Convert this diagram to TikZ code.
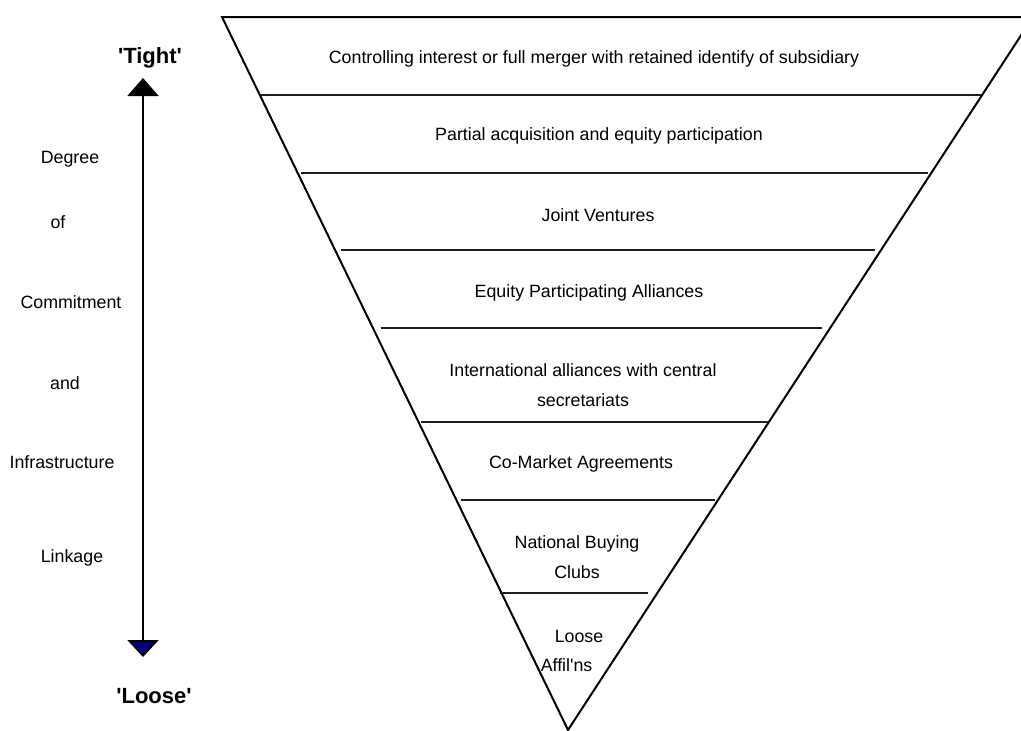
\documentclass[tikz,border=0pt]{standalone}
\usepackage{fontspec}
\setmainfont{Liberation Sans}
\usetikzlibrary{arrows.meta}
\definecolor{navyhead}{RGB}{0,0,128}
\newcommand{\sq}{\textquotesingle}

\begin{document}
\begin{tikzpicture}[x=1pt,y=-1pt,
  tier/.style={font=\fontsize{17.8}{30}\selectfont, align=center, inner sep=0pt},
  side/.style={font=\fontsize{17.8}{22}\selectfont, inner sep=0pt},
  pole/.style={font=\bfseries\fontsize{22}{26}\selectfont, inner sep=0pt},
  edge/.style={line width=2pt, line join=miter},
  divider/.style={line width=2.6pt, draw=black!88}]

\useasboundingbox (0,0) rectangle (1021,731);

% inverted triangle
\coordinate (tl) at (222,17);
\coordinate (tr) at (1033,17);
\coordinate (tip) at (568,730);
\draw[edge] (tip) -- (tl) -- (tr) -- cycle;

% tier dividers
\foreach \n/\y/\xl/\xr in {1/95/261/981, 2/173/301/928, 3/250/341/875,
                            4/328/381/822, 5/422/421/768, 6/500/461/715,
                            7/593/500/648} {
  \coordinate (d\n l) at (\xl,\y);
  \coordinate (d\n r) at (\xr,\y);
  \draw[divider] (d\n l) -- (d\n r);
}

% tier labels
\node[tier] (t1) at (594,59) {Controlling interest or full merger with retained identify of subsidiary};
\node[tier] (t2) at (599,136) {Partial acquisition and equity participation};
\node[tier] (t3) at (598,215) {Joint Ventures};
\node[tier] (t4) at (589,293) {Equity Participating Alliances};
\node[tier] (t5) at (583,385) {International alliances with central\\secretariats};
\node[tier] (t6) at (581,464) {Co-Market Agreements};
\node[tier] (t7) at (577,557) {National Buying\\Clubs};
\node[tier, align=left] (t8) at (572,651) {\hspace*{14pt}Loose\\[-1pt]Affil\sq ns};

% commitment scale
\coordinate (atop) at (143,78);
\coordinate (abot) at (143,657);
\draw[line width=2pt,
  {Triangle[width=31pt,length=18pt,fill=black]}-{Triangle[width=31pt,length=17pt,fill=navyhead]}]
  (atop) -- (abot);

\node[pole] (tight) at (150,58) {\sq Tight\sq};
\node[pole] (loose) at (154,696) {\sq Loose\sq};

\node[side] (s1) at (70,159) {Degree};
\node[side] (s2) at (58,222) {of};
\node[side] (s3) at (71,302) {Commitment};
\node[side] (s4) at (65,383) {and};
\node[side] (s5) at (62,462) {Infrastructure};
\node[side] (s6) at (72,558) {Linkage};
\end{tikzpicture}
\end{document}
